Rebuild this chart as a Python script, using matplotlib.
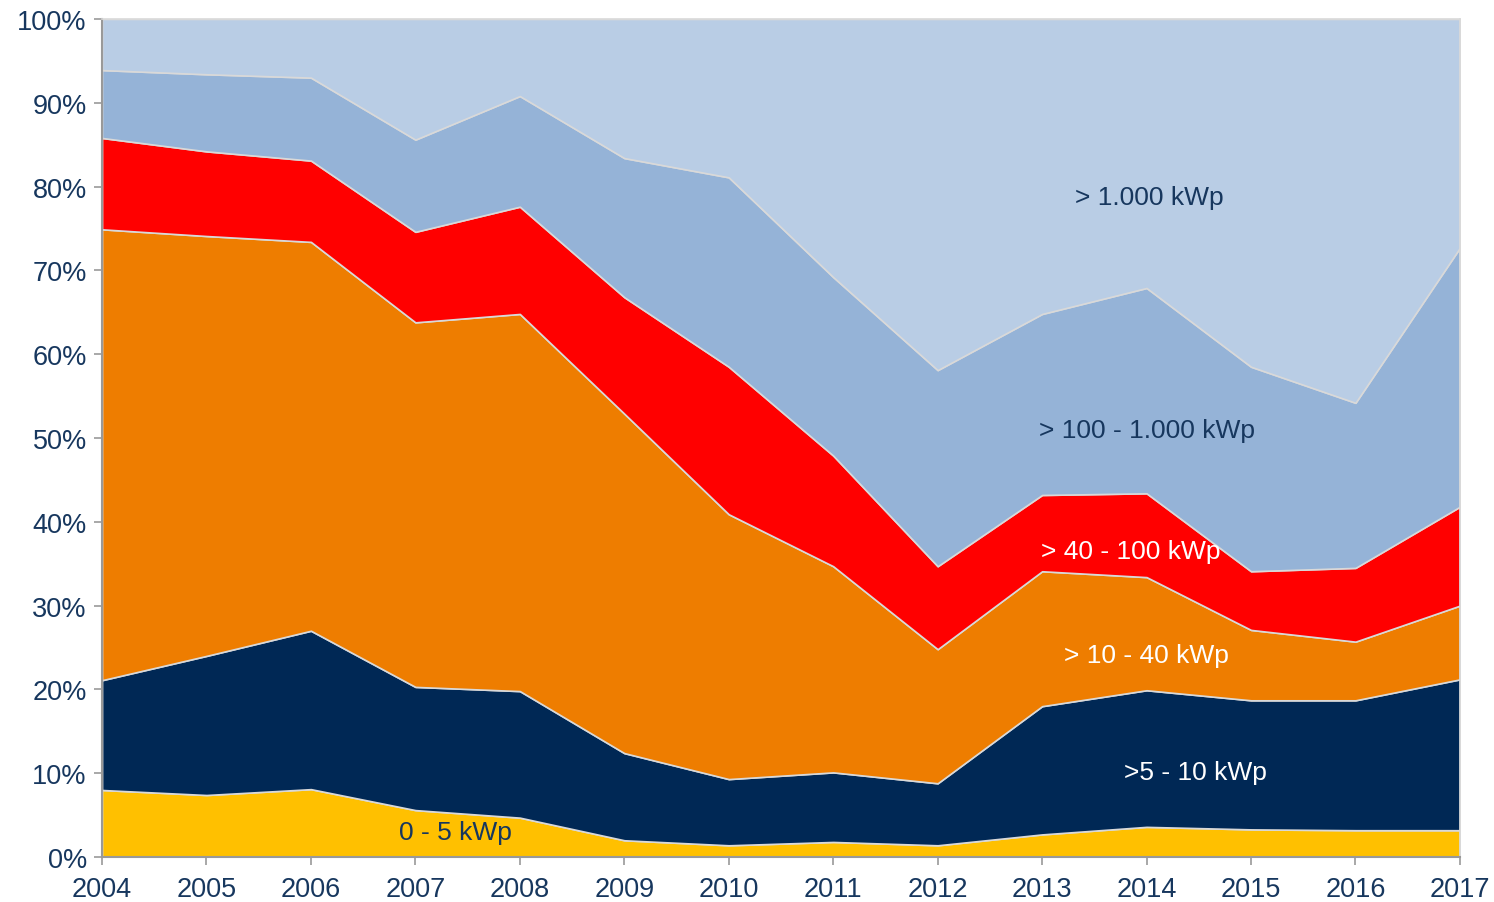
import numpy as np
import matplotlib.pyplot as plt

plt.rcParams['font.family'] = ['Liberation Sans', 'DejaVu Sans']

years = list(range(2004, 2018))
labels = ['0 - 5 kWp', '>5 - 10 kWp', '> 10 - 40 kWp', '> 40 - 100 kWp',
          '> 100 - 1.000 kWp', '> 1.000 kWp']

# shares in percent
s_0_5 = [8.0, 7.4, 8.1, 5.6, 4.7, 2.0, 1.4, 1.8, 1.4, 2.7, 3.6, 3.3, 3.2, 3.2]
s_5_10 = [13.1, 16.6, 18.9, 14.7, 15.1, 10.4, 7.9, 8.3, 7.4, 15.3, 16.3, 15.4, 15.5, 18.0]
s_10_40 = [53.8, 50.1, 46.4, 43.5, 45.0, 40.5, 31.6, 24.6, 16.0, 16.1, 13.5, 8.4, 7.0, 8.8]
s_40_100 = [10.9, 10.1, 9.7, 10.8, 12.8, 13.9, 17.6, 13.2, 9.9, 9.1, 10.0, 7.0, 8.8, 11.8]
s_100_1000 = [8.1, 9.2, 9.9, 11.0, 13.2, 16.6, 22.6, 21.3, 23.4, 21.6, 24.5, 24.4, 19.7, 30.9]
s_1000 = [6.1, 6.6, 7.0, 14.4, 9.2, 16.6, 18.9, 30.8, 41.9, 35.2, 32.1, 41.5, 45.8, 27.3]

colors = ['#FFC000', '#002855', '#EE7D00', '#FF0000', '#95B3D7', '#B9CDE5']
navy = '#17375E'

fig = plt.figure(figsize=(14.94, 9.03), dpi=100)
ax = fig.add_axes([0.0683, 0.0498, 0.9089, 0.9281])

series = [s_0_5, s_5_10, s_10_40, s_40_100, s_100_1000, s_1000]
ax.stackplot(years, *series, colors=colors, labels=labels,
             edgecolor='#D9D9D9', linewidth=1.2)

ax.set_xlim(2004, 2017)
ax.set_ylim(0, 100)
ax.set_xticks(years)
ax.set_yticks(np.arange(0, 101, 10))
ax.set_yticklabels([f'{v}%' for v in range(0, 101, 10)])
ax.tick_params(axis='both', direction='out', length=6, width=1.2,
               color='#999999', labelsize=19.5, labelcolor=navy)
ax.tick_params(axis='x', pad=8)
ax.tick_params(axis='y', pad=5)

for side in ['left', 'bottom']:
    ax.spines[side].set_color('#999999')
    ax.spines[side].set_linewidth(1.5)
for side in ['top', 'right']:
    ax.spines[side].set_color('#D9D9D9')
    ax.spines[side].set_linewidth(1.2)

fs = 19
ax.text(2007.38, 3.0, '0 - 5 kWp', color=navy, fontsize=fs, ha='center', va='center')
ax.text(2014.47, 10.2, '>5 - 10 kWp', color='white', fontsize=fs, ha='center', va='center')
ax.text(2014.0, 24.1, '> 10 - 40 kWp', color='white', fontsize=fs, ha='center', va='center')
ax.text(2013.85, 36.5, '> 40 - 100 kWp', color='white', fontsize=fs, ha='center', va='center')
ax.text(2014.0, 51.0, '> 100 - 1.000 kWp', color=navy, fontsize=fs, ha='center', va='center')
ax.text(2014.03, 78.8, '> 1.000 kWp', color=navy, fontsize=fs, ha='center', va='center')

fig.savefig('out.png', dpi=100)
